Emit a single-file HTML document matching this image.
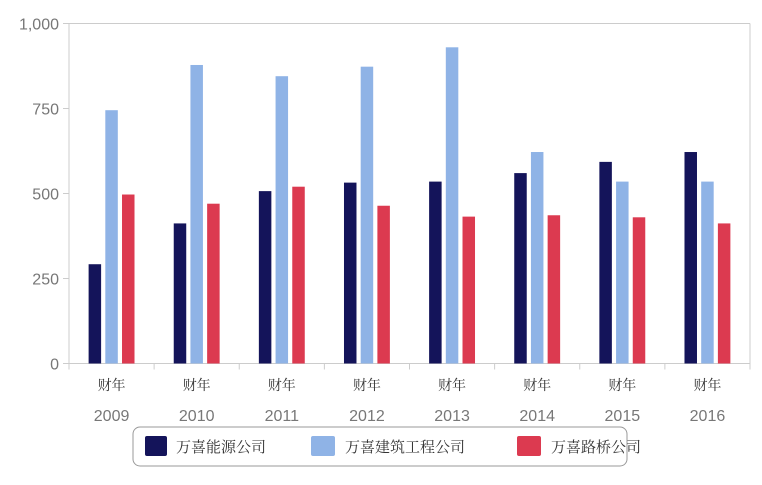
<!DOCTYPE html>
<html><head><meta charset="utf-8"><style>
body{margin:0;background:#fff;}
svg{display:block;font-family:"Liberation Sans","Noto Sans CJK SC",sans-serif;}
</style></head><body>
<svg id="chart" width="762" height="485" viewBox="0 0 762 485">
<g id="grid"></g><g id="bars"></g><g id="labels"></g>
<g>
<rect x="133" y="427" width="494" height="39" rx="7" fill="#fff" stroke="#999" stroke-width="1"/>
<rect x="145" y="436" width="22" height="20" rx="2" fill="#14145a"/>
<text x="176" y="452" font-size="15" fill="#333" font-family="Noto Serif CJK SC, serif">万喜能源公司</text>
<rect x="311" y="436" width="24" height="20" rx="2" fill="#8fb3e6"/>
<text x="345" y="452" font-size="15" fill="#333" font-family="Noto Serif CJK SC, serif">万喜建筑工程公司</text>
<rect x="517" y="436" width="24" height="20" rx="2" fill="#dc3a50"/>
<text x="551" y="452" font-size="15" fill="#333" font-family="Noto Serif CJK SC, serif">万喜路桥公司</text>
</g>
</svg>
<script>
const categories=["2009","2010","2011","2012","2013","2014","2015","2016"];
const energy=[292,412,507,532,535,560,593,622];
const construction=[745,878,845,873,930,622,535,535];
const roads=[497,470,520,464,432,436,430,412];
const yTicks=[0,250,500,750,1000];
const yTickLabels=["0","250","500","750","1,000"];
const NS="http://www.w3.org/2000/svg";
const L=69,R=750,T=23.5,B=363.5,MAX=1000;
const y=v=>B-(v/MAX)*(B-T);
const bw=(R-L)/categories.length;
const x=i=>L+i*bw;
function mk(tag,attrs,parent){const e=document.createElementNS(NS,tag);for(const k in attrs)e.setAttribute(k,attrs[k]);parent.appendChild(e);return e;}
const grid=document.getElementById('grid'),bars=document.getElementById('bars'),labels=document.getElementById('labels');
let ln=mk('line',{x1:L,y1:T,x2:R,y2:T,stroke:'#ccc'},grid);

ln=mk('line',{x1:R,y1:T,x2:R,y2:B,stroke:'#ccc'},grid);

ln=mk('line',{x1:L,y1:T,x2:L,y2:B,stroke:'#ccc'},grid);

ln=mk('line',{x1:L,y1:B,x2:R,y2:B,stroke:'#ccc'},grid);

yTicks.forEach((v,i)=>{
 const t=mk('line',{x1:L-6,y1:y(v),x2:L,y2:y(v),stroke:'#ccc'},grid);
 
 const tx=mk('text',{x:L-10,y:y(v)+6,'text-anchor':'end','font-size':'16',fill:'#777'},labels);
 tx.textContent=yTickLabels[i];
 
});
for(let i=0;i<=categories.length;i++){
 const t=mk('line',{x1:x(i),y1:B,x2:x(i),y2:B+6,stroke:'#ccc'},grid);
 
}
const series=[[energy,'#14145a','energy'],[construction,'#8fb3e6','construction'],[roads,'#dc3a50','roads']];
const barW=12.5,gap=4.2;
categories.forEach((c,i)=>{
 const cx=x(i)+bw/2;
 series.forEach((s,j)=>{
  const bx=cx-barW*1.5-gap+j*(barW+gap);
  const r=mk('rect',{x:bx,y:y(s[0][i]),width:barW,height:B-y(s[0][i]),fill:s[1]},bars);
  
 });
 const a=mk('text',{x:cx,y:390,'text-anchor':'middle','font-size':'14',fill:'#333','font-family':'Noto Serif CJK SC, serif'},labels);
 a.textContent='财年';
 
 const b=mk('text',{x:cx,y:421,'text-anchor':'middle','font-size':'16',fill:'#777'},labels);
 b.textContent=c;
 
});
</script>
</body></html>
